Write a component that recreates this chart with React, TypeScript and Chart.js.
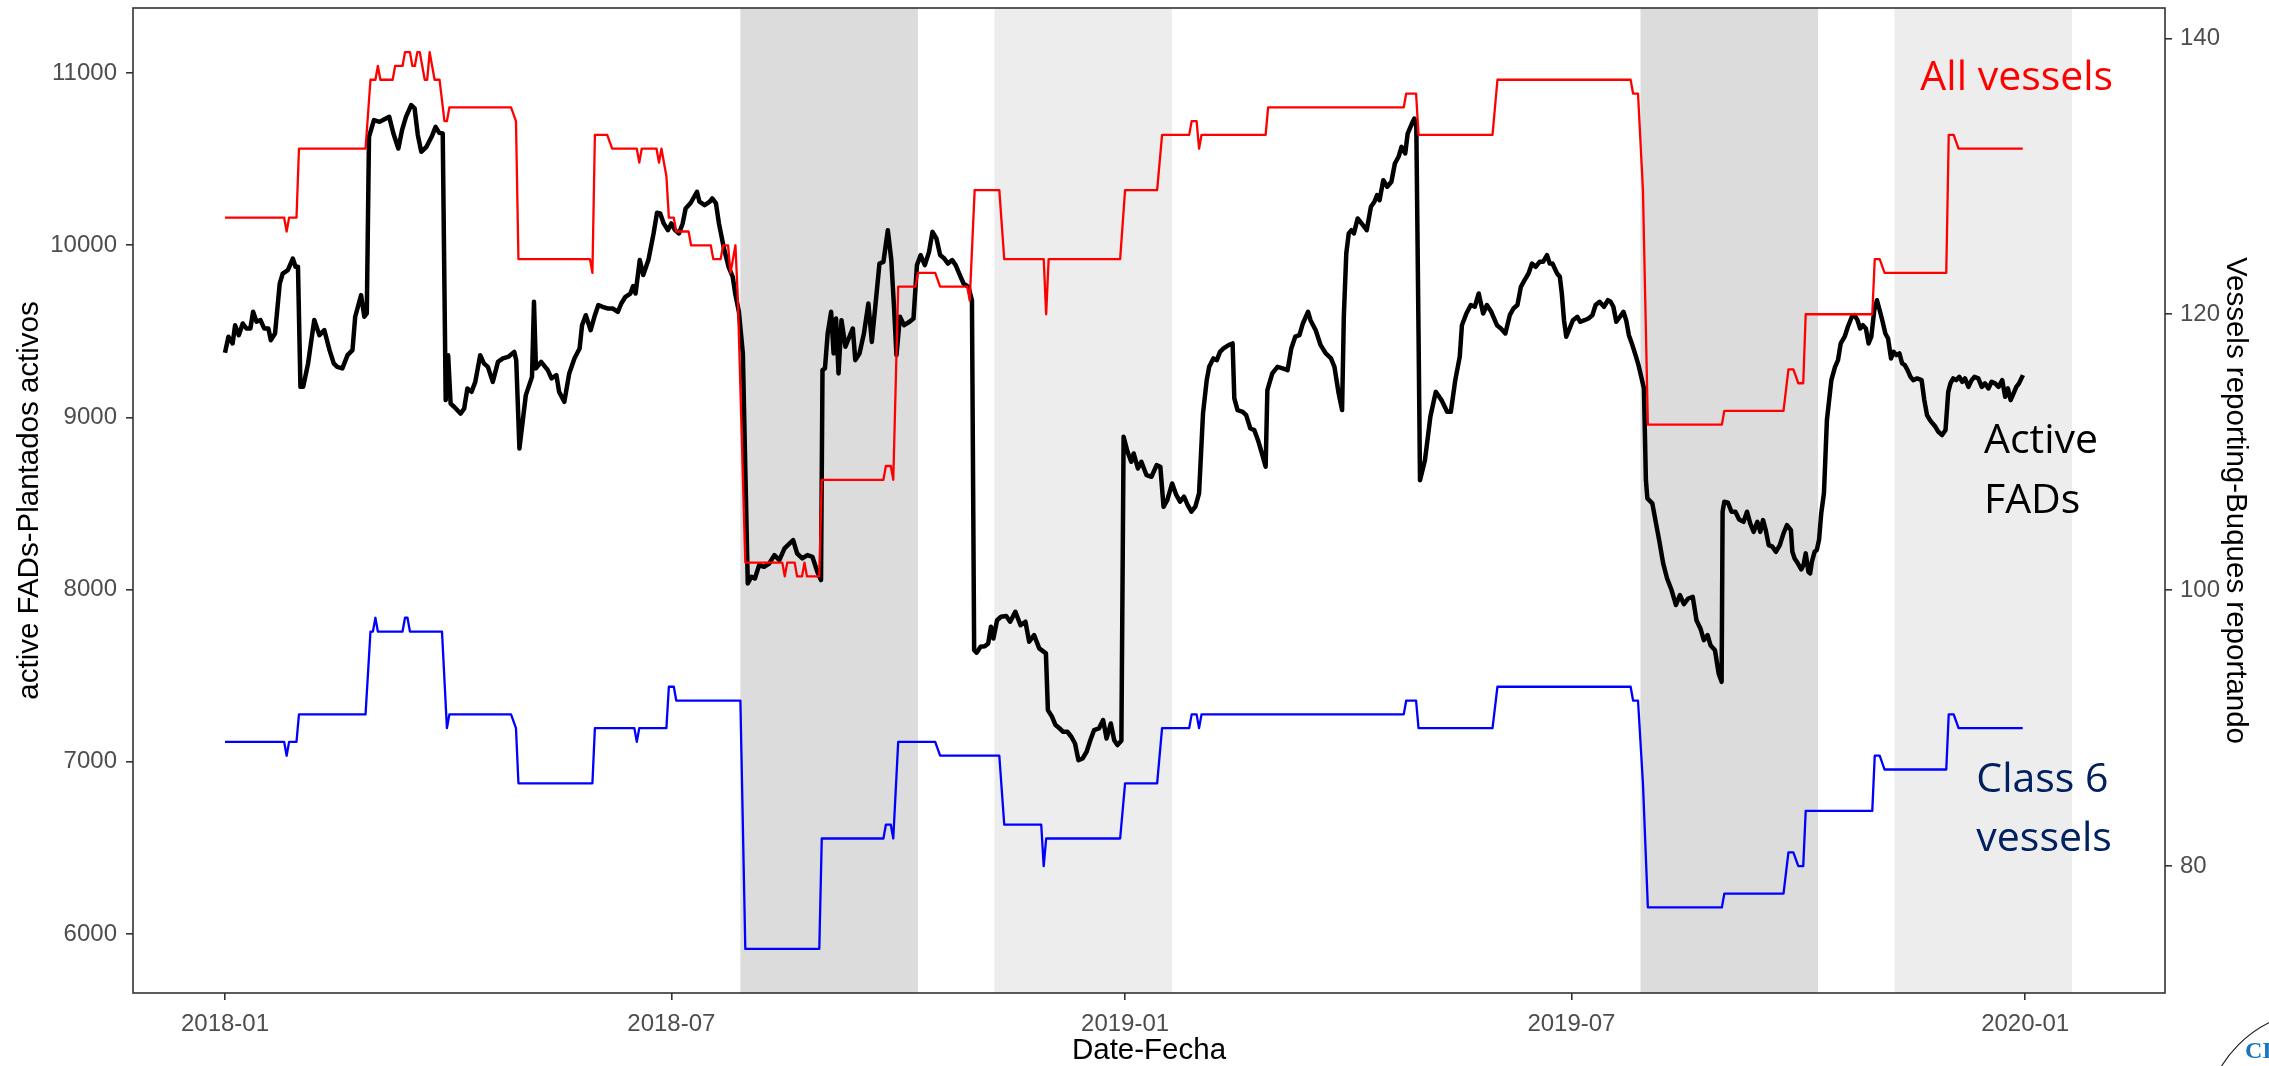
import React, { useEffect, useRef } from "react";
import { Chart, registerables } from "chart.js";

Chart.register(...registerables);

// ---------- axis / tick data ----------
const xTickDays = [0, 181, 365, 546, 730]; // days since 2018-01-01
const xTickLabels = ["2018-01", "2018-07", "2019-01", "2019-07", "2020-01"];
const leftTicks = [6000, 7000, 8000, 9000, 10000, 11000];
const rightTicks = [80, 100, 120, 140];

// closure periods (days since 2018-01-01)
const closureStart = [209, 312, 574, 677];
const closureEnd = [281, 384, 646, 749];

// ---------- All vessels (right axis) ----------
const allVesselDays = [
  0, 24, 25, 26, 29, 30, 57, 59, 61, 62, 63, 68, 69, 72, 73, 75, 76, 77, 78, 79, 80, 81, 82, 83, 84, 85, 87, 89, 90, 91,
  116, 118, 119, 148, 149, 150, 155, 157, 167, 168, 169, 175, 176, 177, 178, 179, 180, 182, 183, 188, 189, 197, 198, 201,
  202, 204, 205, 207, 208, 211, 226, 227, 228, 231, 232, 234, 235, 236, 241, 242, 267, 268, 270, 271, 273, 280, 281, 288,
  290, 301, 302, 304, 314, 316, 332, 333, 334, 363, 365, 378, 380, 391, 392, 394, 395, 396, 422, 423, 478, 479, 483, 484,
  514, 516, 570, 571, 573, 575, 577, 607, 608, 632, 634, 636, 638, 640, 641, 668, 669, 671, 673, 698, 699, 701, 703, 729,
];
const allVesselCounts = [
  127, 127, 126, 127, 127, 132, 132, 137, 137, 138, 137, 137, 138, 138, 139, 139, 138, 138, 139, 139, 138, 137, 137, 139,
  138, 137, 137, 134, 134, 135, 135, 134, 124, 124, 123, 133, 133, 132, 132, 131, 132, 132, 131, 132, 131, 130, 127, 127,
  126, 126, 125, 125, 124, 124, 125, 125, 123, 125, 121, 102, 102, 101, 102, 102, 101, 101, 102, 101, 101, 108, 108, 109,
  109, 108, 122, 122, 123, 123, 122, 122, 121, 129, 129, 124, 124, 120, 124, 124, 129, 129, 133, 133, 134, 134, 132, 133,
  133, 135, 135, 136, 136, 133, 133, 137, 137, 136, 136, 129, 112, 112, 113, 113, 116, 116, 115, 115, 120, 120, 124, 124,
  123, 123, 133, 133, 132, 132,
];

// ---------- Class 6 vessels (right axis) ----------
const class6Days = [
  0, 24, 25, 26, 29, 30, 57, 59, 60, 61, 62, 72, 73, 74, 75, 88, 90, 91, 116, 118, 119, 149, 150, 166, 167, 168, 179, 180,
  182, 183, 209, 211, 241, 242, 267, 268, 270, 271, 273, 288, 290, 314, 316, 331, 332, 333, 363, 365, 378, 380, 391, 392,
  394, 395, 396, 478, 479, 483, 484, 514, 516, 570, 571, 573, 575, 577, 607, 608, 632, 634, 636, 638, 640, 641, 668, 669,
  671, 673, 698, 699, 701, 703, 729,
];
const class6Counts = [
  89, 89, 88, 89, 89, 91, 91, 97, 97, 98, 97, 97, 98, 98, 97, 97, 90, 91, 91, 90, 86, 86, 90, 90, 89, 90, 90, 93, 93, 92,
  92, 74, 74, 82, 82, 83, 83, 82, 89, 89, 88, 88, 83, 83, 80, 82, 82, 86, 86, 90, 90, 91, 91, 90, 91, 91, 92, 92, 90, 90,
  93, 93, 92, 92, 86, 77, 77, 78, 78, 81, 81, 80, 80, 84, 84, 88, 88, 87, 87, 91, 91, 90, 90,
];

// ---------- Active FADs (left axis) ----------
const fadDays = [
  0, 1.4, 3.1, 4.1, 5.6, 7.2, 8.7, 10.3, 11.4, 12.8, 14.4, 15.9, 17.6, 18.6, 20.3, 22.2, 23.4, 25.5, 27.5, 28.6, 29.6,
  30.6, 31.7, 33.7, 36.2, 38.3, 40.3, 42.4, 44.1, 45.5, 47.6, 49.7, 51.7, 52.8, 55.2, 56.5, 57.5, 58.4, 60.4, 62.7, 64.1,
  66.6, 68.3, 70.3, 71.8, 73.4, 75.5, 76.9, 78.2, 79.6, 81.7, 83.8, 85.4, 86.9, 88.3, 89.5, 90.5, 91.5, 93, 95.5, 97,
  98.3, 100, 101.5, 103.5, 105, 106.6, 108.6, 110.7, 112.7, 114.8, 117.3, 118.1, 119.4, 122, 124.5, 125.3, 126.1, 128.2,
  130.9, 132.4, 134.4, 135.5, 137.6, 139.6, 141.7, 143.8, 144.8, 146.3, 148.3, 150, 151.4, 153.1, 155.1, 157.2, 159.3,
  160.7, 162.4, 164.4, 165.5, 166.5, 168.2, 169.6, 171.7, 173.8, 175.2, 176.5, 177.9, 179.6, 181, 182.5, 184.1, 185.6,
  186.8, 188.9, 191.4, 192.4, 194.5, 196.6, 197.6, 199.1, 200.3, 202.2, 204.2, 205.9, 206.9, 208.4, 210, 211, 212, 213.5,
  214.9, 216.6, 218.6, 220.7, 222.8, 224.8, 226.9, 229, 230.4, 232, 234.1, 236.2, 238.2, 240.2, 241.7, 242.3, 243.3,
  244.4, 245.8, 246.8, 247.8, 248.8, 250, 251.6, 253.2, 254.6, 255.6, 257.3, 259.1, 260.9, 262.3, 263.9, 265.4, 267,
  268.8, 270.2, 271.3, 272.3, 273.7, 275.4, 277.6, 279.2, 280.6, 282.1, 283.8, 285.5, 286.9, 288.5, 290, 291.7, 293.2,
  294.9, 296.3, 298, 299.5, 301.5, 302.9, 303.8, 304.8, 306.4, 308.1, 309.5, 310.6, 311.6, 313.1, 314.7, 316.8, 318.4,
  320.5, 322.6, 324.6, 326.1, 328.1, 330.2, 332.9, 333.7, 335.4, 336.8, 338.5, 339.9, 341.6, 343.2, 344.7, 346.1, 347.8,
  349.4, 350.9, 352.4, 354.4, 356.1, 357.5, 359.2, 360.6, 361.9, 363.5, 364.4, 366, 367.5, 368.5, 370.2, 371.6, 373.7,
  375.7, 377.8, 379.3, 380.6, 382.1, 384.1, 385.8, 387.3, 388.9, 390.4, 391.9, 393.5, 395, 396.6, 398.1, 399.1, 400.8,
  402.2, 403.5, 404.9, 407, 408.6, 409.3, 410.6, 412.7, 414.1, 415.8, 417.4, 418.9, 420.5, 422, 422.7, 424.7, 426.8,
  428.9, 430.9, 432.4, 434, 435.7, 437.1, 439.2, 440.2, 442.3, 444.3, 446.4, 448.5, 449.9, 451.6, 453, 453.7, 454.7,
  455.7, 456.8, 457.8, 459.3, 460.9, 463, 464.7, 466.1, 467.2, 468.2, 469.7, 471.3, 473, 474.4, 475.9, 477.1, 478.6,
  479.6, 481.3, 482.3, 483.1, 484, 484.6, 486.6, 488.8, 491, 493.3, 495.6, 497.1, 498.9, 500.7, 501.6, 503.4, 505.2,
  506.8, 508.4, 510.2, 511.7, 513.5, 515.8, 517.4, 519.2, 521, 522.5, 524.1, 525.5, 527, 528.6, 530, 531.5, 533.1, 534.5,
  536.1, 537.2, 538.3, 540.2, 541.3, 542.1, 543, 543.9, 545, 546.6, 548.4, 549.5, 551.3, 552.9, 554.5, 555.8, 557.4,
  559.2, 560.8, 561.9, 563, 564.2, 565.7, 567.1, 568.2, 569.3, 570.5, 572, 573.2, 574.3, 575.4, 576.2, 576.8, 578.8,
  580.3, 581.7, 583.2, 584.8, 586.6, 588.4, 590, 591.6, 593.4, 595.2, 596.7, 598.3, 599.7, 601.2, 602.4, 604.2, 605.7,
  606.9, 607.3, 608, 609.5, 610.9, 612.5, 614, 615.8, 617.2, 618.5, 619.9, 621.4, 622.6, 623.7, 624.8, 626, 627.5, 628.9,
  630.5, 632, 633.4, 635, 635.6, 636.5, 637.8, 639.2, 640.1, 641, 642.1, 642.8, 643.5, 644.6, 645.5, 646.4, 647.3, 648.4,
  649.6, 651.4, 652.9, 654.1, 655.2, 656.8, 658.1, 659.7, 660.8, 662, 663.1, 664.2, 665.4, 666.5, 667.6, 668.8, 669.9,
  671, 672.2, 673.3, 674.4, 675.6, 676.7, 677.8, 679, 680.1, 681.2, 682.3, 683.5, 684.6, 686.2, 688, 689.1, 690.2, 691.4,
  692.5, 693.6, 694.8, 696.3, 697.7, 698.8, 699.7, 700.8, 702, 703.3, 704.5, 705.6, 707, 708.3, 709.4, 711, 712.4, 713.7,
  715.1, 716.4, 717.8, 719.2, 720.7, 721.9, 723, 724.1, 725.3, 726.4, 727.5, 729.1,
];
const fadCounts = [
  9375, 9468, 9429, 9535, 9477, 9545, 9516, 9516, 9613, 9555, 9565, 9516, 9516, 9448, 9487, 9777, 9835, 9855, 9922, 9874,
  9874, 9177, 9177, 9313, 9565, 9477, 9506, 9390, 9313, 9293, 9284, 9361, 9390, 9584, 9710, 9584, 9603, 10629, 10726,
  10716, 10726, 10745, 10648, 10561, 10668, 10745, 10813, 10794, 10639, 10542, 10571, 10629, 10687, 10652, 10648, 9100,
  9360, 9080, 9060, 9022, 9051, 9168, 9148, 9206, 9361, 9313, 9293, 9206, 9322, 9342, 9351, 9380, 9332, 8819, 9129, 9235,
  9671, 9284, 9322, 9274, 9226, 9245, 9148, 9090, 9255, 9342, 9400, 9535, 9593, 9506, 9593, 9652, 9642, 9632, 9632, 9613,
  9661, 9700, 9719, 9762, 9719, 9913, 9826, 9913, 10068, 10188, 10184, 10126, 10087, 10126, 10087, 10068, 10126, 10213,
  10246, 10310, 10252, 10232, 10252, 10271, 10242, 10126, 9990, 9874, 9816, 9719, 9613, 9371, 8700, 8035, 8074, 8064,
  8142, 8132, 8151, 8200, 8171, 8239, 8268, 8287, 8210, 8181, 8200, 8190, 8103, 8055, 9274, 9284, 9487, 9613, 9371, 9574,
  9255, 9564, 9410, 9468, 9516, 9332, 9371, 9487, 9661, 9438, 9671, 9893, 9903, 10087, 9913, 9642, 9361, 9584, 9535, 9555,
  9574, 9884, 9942, 9884, 9961, 10077, 10039, 9942, 9922, 9893, 9913, 9884, 9826, 9777, 9758, 9680, 7648, 7633, 7668,
  7671, 7687, 7784, 7716, 7822, 7842, 7846, 7813, 7871, 7793, 7813, 7697, 7735, 7658, 7629, 7300, 7261, 7213, 7193, 7174,
  7174, 7145, 7106, 7009, 7019, 7058, 7125, 7183, 7193, 7242, 7135, 7222, 7125, 7097, 7122, 8887, 8800, 8742, 8790, 8703,
  8742, 8664, 8655, 8722, 8713, 8480, 8519, 8616, 8548, 8510, 8539, 8490, 8452, 8481, 8558, 9022, 9216, 9293, 9342, 9332,
  9380, 9400, 9419, 9429, 9110, 9042, 9032, 9013, 8935, 8926, 8867, 8790, 8713, 9158, 9255, 9293, 9284, 9274, 9400, 9468,
  9477, 9545, 9613, 9564, 9506, 9419, 9371, 9342, 9293, 9139, 9042, 9584, 9952, 10068, 10087, 10068, 10155, 10126, 10087,
  10223, 10252, 10290, 10261, 10377, 10339, 10368, 10474, 10513, 10571, 10532, 10648, 10706, 10735, 10687, 9487, 8635,
  8751, 9003, 9148, 9100, 9032, 9032, 9216, 9351, 9535, 9603, 9652, 9642, 9719, 9603, 9652, 9613, 9535, 9516, 9487, 9593,
  9632, 9652, 9758, 9797, 9835, 9893, 9874, 9903, 9903, 9942, 9893, 9893, 9835, 9816, 9719, 9564, 9468, 9506, 9564, 9584,
  9555, 9564, 9574, 9593, 9652, 9671, 9642, 9680, 9671, 9642, 9555, 9584, 9613, 9564, 9477, 9429, 9361, 9303, 9235, 9168,
  8635, 8529, 8500, 8384, 8277, 8152, 8064, 7997, 7910, 7968, 7915, 7948, 7958, 7822, 7774, 7706, 7735, 7677, 7648, 7513,
  7464, 8452, 8510, 8504, 8452, 8452, 8407, 8393, 8452, 8384, 8335, 8393, 8335, 8403, 8345, 8258, 8249, 8219, 8258, 8326,
  8374, 8345, 8219, 8180, 8152, 8117, 8142, 8210, 8103, 8093, 8161, 8219, 8229, 8287, 8442, 8560, 8984, 9216, 9293, 9332,
  9429, 9468, 9526, 9584, 9593, 9564, 9516, 9535, 9516, 9429, 9468, 9622, 9680, 9622, 9555, 9487, 9458, 9342, 9380, 9361,
  9371, 9313, 9303, 9274, 9235, 9216, 9226, 9216, 9100, 9013, 8984, 8964, 8945, 8916, 8897, 8926, 9148, 9197, 9226, 9216,
  9235, 9206, 9226, 9177, 9216, 9235, 9226, 9177, 9197, 9168, 9206, 9197, 9177, 9216, 9119, 9168, 9100, 9139, 9177, 9197,
  9245,
];

// annotation texts
const labelAll = ["All vessels"];
const labelFads = ["Active", "FADs"];
const labelClass6 = ["Class 6", "vessels"];

const toPoints = (xs: number[], ys: number[]) => xs.map((x, i) => ({ x, y: ys[i] }));

const AXIS_FONT = "'Liberation Sans', Arial, sans-serif";
const NOTE_FONT = "'Open Sans', 'Noto Sans', sans-serif";

const shadePlugin = {
  id: "closureShade",
  beforeDatasetsDraw(chart: any) {
    const { ctx, chartArea, scales } = chart;
    const xs = scales.x;
    ctx.save();
    closureStart.forEach((s, i) => {
      const x0 = xs.getPixelForValue(s);
      const x1 = xs.getPixelForValue(closureEnd[i]);
      ctx.fillStyle = i % 2 === 0 ? "#dcdcdc" : "#ededed";
      ctx.fillRect(x0, chartArea.top, x1 - x0, chartArea.bottom - chartArea.top);
    });
    ctx.restore();
  },
};

const overlayPlugin = {
  id: "overlay",
  afterDatasetsDraw(chart: any) {
    const { ctx, chartArea, scales } = chart;
    const xs = scales.x;
    const yr = scales.y2;
    const yl = scales.y;
    ctx.save();
    // panel border
    ctx.strokeStyle = "#333333";
    ctx.lineWidth = 1.6;
    ctx.strokeRect(chartArea.left, chartArea.top, chartArea.right - chartArea.left, chartArea.bottom - chartArea.top);

    ctx.textAlign = "left";
    ctx.textBaseline = "alphabetic";
    ctx.font = `41px ${NOTE_FONT}`;
    // All vessels
    ctx.fillStyle = "#ff0000";
    ctx.fillText(labelAll[0], xs.getPixelForValue(687.5), yr.getPixelForValue(136.25));
    // Active FADs
    ctx.fillStyle = "#000000";
    const fx = xs.getPixelForValue(713.3);
    ctx.fillText(labelFads[0], fx, yl.getPixelForValue(8794));
    ctx.fillText(labelFads[1], fx, yl.getPixelForValue(8446));
    // Class 6 vessels
    ctx.fillStyle = "#002060";
    const cx = xs.getPixelForValue(710.2);
    ctx.fillText(labelClass6[0], cx, yr.getPixelForValue(85.35));
    ctx.fillText(labelClass6[1], cx, yr.getPixelForValue(81.1));

    // partial logo in the corner
    ctx.beginPath();
    ctx.strokeStyle = "#222222";
    ctx.lineWidth = 1.2;
    ctx.arc(2322, 1128, 118, Math.PI * 1.0, Math.PI * 1.5);
    ctx.stroke();
    ctx.fillStyle = "#1b75bc";
    ctx.font = `bold 24px 'Liberation Serif', 'DejaVu Serif', serif`;
    ctx.fillText("CIAT", 2245, 1058);
    ctx.restore();
  },
};

export default function App() {
  const canvasRef = useRef<HTMLCanvasElement | null>(null);

  useEffect(() => {
    document.body.style.margin = "0";
    const canvas = canvasRef.current;
    if (!canvas) return;

    const zeroPad = (s: any) => {
      s.paddingTop = 0;
      s.paddingBottom = 0;
      s.paddingLeft = 0;
      s.paddingRight = 0;
    };

    const chart = new Chart(canvas, {
      type: "line",
      data: {
        datasets: [
          {
            label: "All vessels",
            data: toPoints(allVesselDays, allVesselCounts),
            yAxisID: "y2",
            borderColor: "#ff0000",
            borderWidth: 2.3,
            pointRadius: 0,
            tension: 0,
            borderJoinStyle: "round",
          },
          {
            label: "Class 6 vessels",
            data: toPoints(class6Days, class6Counts),
            yAxisID: "y2",
            borderColor: "#0000ff",
            borderWidth: 2.3,
            pointRadius: 0,
            tension: 0,
            borderJoinStyle: "round",
          },
          {
            label: "Active FADs",
            data: toPoints(fadDays, fadCounts),
            yAxisID: "y",
            borderColor: "#000000",
            borderWidth: 4.5,
            pointRadius: 0,
            tension: 0,
            borderJoinStyle: "round",
          },
        ],
      },
      options: {
        animation: false,
        responsive: false,
        maintainAspectRatio: false,
        devicePixelRatio: 1,
        layout: { padding: { top: 8, left: 0, right: 0, bottom: 0 } },
        plugins: { legend: { display: false }, tooltip: { enabled: false } },
        events: [],
        scales: {
          x: {
            type: "linear",
            position: "bottom",
            min: -37.3,
            max: 786.7,
            afterBuildTicks: (s: any) => {
              s.ticks = xTickDays.map((v) => ({ value: v }));
            },
            afterFit: (s: any) => {
              s.height = 73;
              zeroPad(s);
            },
            grid: { display: true, drawOnChartArea: false, drawTicks: true, tickLength: 7, color: "#333333", lineWidth: 1.6 },
            border: { display: false },
            ticks: {
              autoSkip: false,
              maxRotation: 0,
              padding: 10,
              color: "#4d4d4d",
              font: { family: AXIS_FONT, size: 24 },
              callback: (v: any) => {
                const i = xTickDays.indexOf(Number(v));
                return i >= 0 ? xTickLabels[i] : "";
              },
            },
            title: {
              display: true,
              text: "Date-Fecha",
              color: "#000000",
              font: { family: AXIS_FONT, size: 29.5, lineHeight: 1 },
              padding: { top: 0, bottom: 0 },
            },
          },
          y: {
            type: "linear",
            position: "left",
            min: 5657,
            max: 11377,
            afterBuildTicks: (s: any) => {
              s.ticks = leftTicks.map((v) => ({ value: v }));
            },
            afterFit: (s: any) => {
              s.width = 133;
              zeroPad(s);
            },
            grid: { display: true, drawOnChartArea: false, drawTicks: true, tickLength: 7, color: "#333333", lineWidth: 1.6 },
            border: { display: false },
            ticks: {
              padding: 9,
              color: "#4d4d4d",
              font: { family: AXIS_FONT, size: 24 },
              callback: (v: any) => String(v),
            },
            title: {
              display: true,
              text: "active FADs-Plantados activos",
              color: "#000000",
              font: { family: AXIS_FONT, size: 29.5, lineHeight: 1.2 },
              padding: { top: 12, bottom: 0 },
            },
          },
          y2: {
            type: "linear",
            position: "right",
            min: 70.8,
            max: 142.2,
            afterBuildTicks: (s: any) => {
              s.ticks = rightTicks.map((v) => ({ value: v }));
            },
            afterFit: (s: any) => {
              s.width = 104;
              zeroPad(s);
            },
            grid: { display: true, drawOnChartArea: false, drawTicks: true, tickLength: 7, color: "#333333", lineWidth: 1.6 },
            border: { display: false },
            ticks: {
              padding: 8,
              color: "#4d4d4d",
              font: { family: AXIS_FONT, size: 24 },
              callback: (v: any) => String(v),
            },
            title: {
              display: true,
              text: "Vessels reporting-Buques reportando",
              color: "#000000",
              font: { family: AXIS_FONT, size: 29.5, lineHeight: 1.2 },
              padding: { top: 16, bottom: 0 },
            },
          },
        },
      },
      plugins: [shadePlugin, overlayPlugin],
    } as any);

    return () => chart.destroy();
  }, []);

  return (
    <div style={{ width: 2269, height: 1066, background: "#ffffff" }}>
      <canvas ref={canvasRef} width={2269} height={1066} style={{ display: "block", width: 2269, height: 1066 }} />
    </div>
  );
}
